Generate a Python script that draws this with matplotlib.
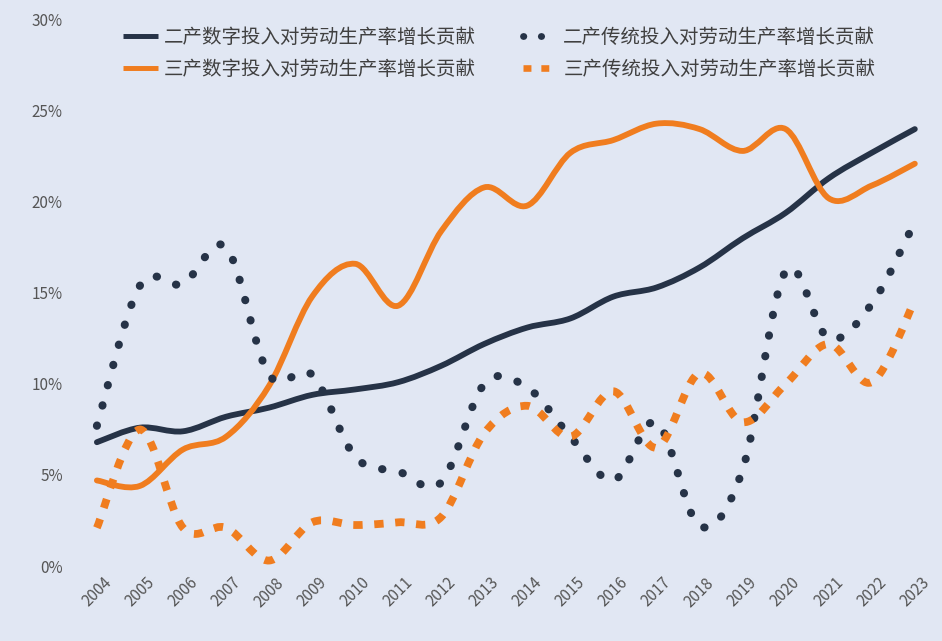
import matplotlib
matplotlib.use("Agg")
import matplotlib.pyplot as plt
from matplotlib.path import Path
from matplotlib.patches import PathPatch
from matplotlib.lines import Line2D

plt.rcParams['font.family'] = ['Noto Sans CJK SC', 'DejaVu Sans']

years = list(range(2004, 2024))
year_labels = [str(y) for y in years]

# 单位: %
er_digital = [6.8, 7.6, 7.4, 8.2, 8.7, 9.4, 9.7, 10.1, 11.0, 12.2,
              13.1, 13.6, 14.8, 15.3, 16.4, 18.0, 19.4, 21.3, 22.7, 24.0]
san_digital = [4.7, 4.4, 6.4, 7.1, 9.9, 14.8, 16.6, 14.3, 18.4, 20.8,
               19.8, 22.7, 23.4, 24.3, 24.0, 22.8, 24.0, 20.2, 20.9, 22.1]
er_trad = [7.7, 15.4, 15.5, 17.5, 10.5, 10.5, 6.0, 5.2, 4.6, 10.0,
           9.8, 7.1, 4.7, 7.9, 2.2, 5.3, 16.2, 12.5, 14.4, 18.9]
san_trad = [2.1, 7.5, 2.1, 2.1, 0.3, 2.4, 2.25, 2.4, 2.7, 7.3,
            8.8, 7.1, 9.6, 6.5, 10.6, 7.9, 10.0, 12.2, 10.1, 14.6]

names = ["二产数字投入对劳动生产率增长贡献", "三产数字投入对劳动生产率增长贡献",
         "二产传统投入对劳动生产率增长贡献", "三产传统投入对劳动生产率增长贡献"]

navy = "#263347"
orange = "#f07d1f"
bg = "#e1e7f3"


def smooth_path(x, y):
    # Excel-style smoothed line (cubic bezier through the points)
    n = len(x)
    verts = [(x[0], y[0])]
    codes = [Path.MOVETO]
    for i in range(n - 1):
        a = max(i - 1, 0)
        b = min(i + 2, n - 1)
        c1 = (x[i] + (x[i + 1] - x[a]) / 6, y[i] + (y[i + 1] - y[a]) / 6)
        c2 = (x[i + 1] - (x[b] - x[i]) / 6, y[i + 1] - (y[b] - y[i]) / 6)
        verts += [c1, c2, (x[i + 1], y[i + 1])]
        codes += [Path.CURVE4] * 3
    return Path(verts, codes)


fig = plt.figure(figsize=(9.42, 6.41), dpi=100, facecolor=bg)
ax = fig.add_axes([0.080, 0.117, 0.914, 0.852])
ax.set_facecolor(bg)

xs = list(range(len(years)))
styles = [
    (er_digital, navy, 4.2, '-', 'round'),
    (san_digital, orange, 4.2, '-', 'round'),
    (er_trad, navy, 5.8, (0, (0.05, 2.55)), 'round'),
    (san_trad, orange, 5.6, (0, (1.2, 1.5)), 'butt'),
]
handles = []
for vals, col, lw, ls, cap in styles:
    p = PathPatch(smooth_path(xs, vals), fill=False, edgecolor=col, lw=lw,
                  linestyle=ls, capstyle=cap, joinstyle='round', zorder=3)
    ax.add_patch(p)
    h = Line2D([], [], color=col, lw=lw * 0.85, linestyle=ls,
               dash_capstyle=cap, solid_capstyle='butt')
    handles.append(h)

ax.set_xlim(-0.5, len(years) - 0.5)
ax.set_ylim(0, 30)
ax.set_yticks(range(0, 31, 5))
ax.set_yticklabels([f"{v}%" for v in range(0, 31, 5)], color="#555555", fontsize=11)
ax.set_xticks(xs)
ax.set_xticklabels(year_labels, rotation=45, ha='center', color="#555555", fontsize=11)
ax.tick_params(length=0)
ax.tick_params(axis='y', pad=9)
ax.tick_params(axis='x', pad=6)
for s in ax.spines.values():
    s.set_visible(False)

leg = fig.legend(handles, names, ncol=2, loc='upper left',
                 bbox_to_anchor=(0.112, 0.985), frameon=False,
                 fontsize=14, handlelength=1.8, columnspacing=2.4,
                 labelspacing=0.55, handletextpad=0.3)
for t in leg.get_texts():
    t.set_color("#404040")

fig.savefig("out.png", dpi=100, facecolor=bg)
